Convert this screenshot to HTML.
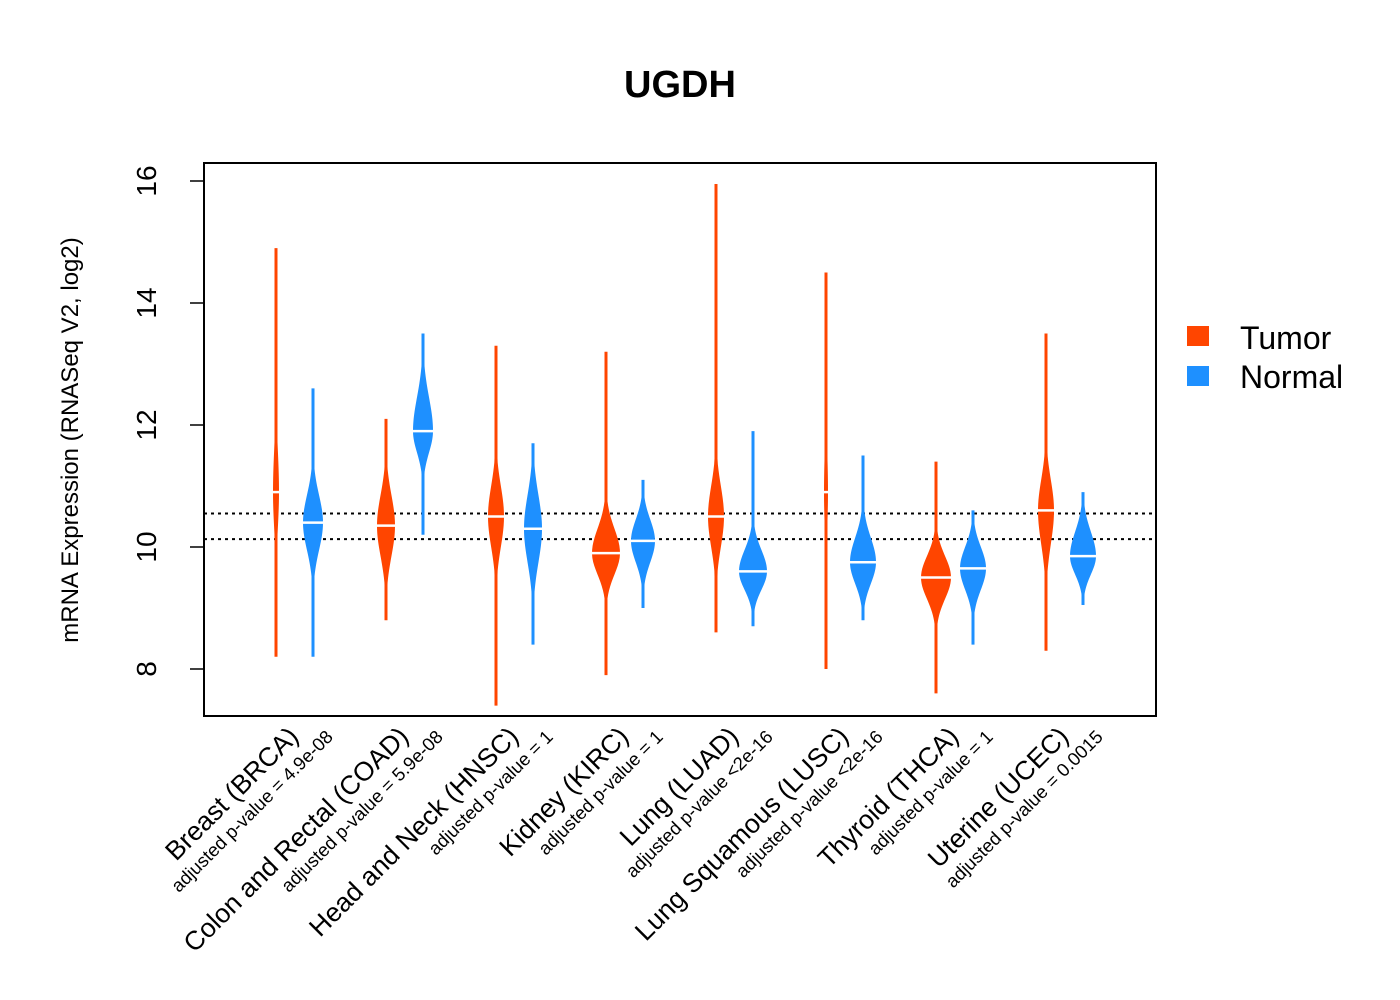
<!DOCTYPE html>
<html><head><meta charset="utf-8"><style>
body{margin:0;background:#fff}
svg{display:block;font-family:"Liberation Sans",Arial,sans-serif}
</style></head><body>
<svg id="chart" width="1400" height="1000">
<text x="680" y="97" font-size="38" font-weight="bold" text-anchor="middle">UGDH</text>
<rect x="204" y="163" width="952" height="553" fill="none" stroke="#000" stroke-width="2"/>
<text transform="translate(78,440) rotate(-90)" font-size="24" text-anchor="middle">mRNA Expression (RNASeq V2, log2)</text>
<g id="axes"></g>
<g id="marks"></g>
<g id="xlabels"></g>
<g>
<rect x="1187" y="326" width="22" height="20" fill="#FF4500"/>
<text x="1240" y="349" font-size="32">Tumor</text>
<rect x="1187" y="366" width="22" height="20" fill="#1E90FF"/>
<text x="1240" y="388" font-size="32">Normal</text>
</g>
</svg>
<script>
const categories=["Breast (BRCA)","Colon and Rectal (COAD)","Head and Neck (HNSC)","Kidney (KIRC)","Lung (LUAD)","Lung Squamous (LUSC)","Thyroid (THCA)","Uterine (UCEC)"];
const pvalues=["adjusted p-value = 4.9e-08","adjusted p-value = 5.9e-08","adjusted p-value = 1","adjusted p-value = 1","adjusted p-value <2e-16","adjusted p-value <2e-16","adjusted p-value = 1","adjusted p-value = 0.0015"];
const yTicks=[8,10,12,14,16];
const refLines=[10.55,10.13];
// tumor series
const tumorMin=[8.2,8.8,7.4,7.9,8.6,8.0,7.6,8.3];
const tumorMax=[14.9,12.1,13.3,13.2,15.95,14.5,11.4,13.5];
const tumorMedian=[10.9,10.35,10.5,9.9,10.5,10.9,9.5,10.6];
const tumorWidth=[6,18,16,28,16,4,30,16];
const tumorSdLow=[0.6,0.5,0.5,0.35,0.5,0.6,0.35,0.55];
const tumorSdHigh=[0.7,0.5,0.5,0.4,0.5,0.7,0.35,0.5];
// normal series
const normalMin=[8.2,10.2,8.4,9.0,8.7,8.8,8.4,9.05];
const normalMax=[12.6,13.5,11.7,11.1,11.9,11.5,10.6,10.9];
const normalMedian=[10.4,11.9,10.3,10.1,9.6,9.75,9.65,9.85];
const normalWidth=[20,20,18,24,28,26,26,26];
const normalSdLow=[0.45,0.35,0.55,0.35,0.3,0.35,0.35,0.3];
const normalSdHigh=[0.45,0.55,0.55,0.35,0.35,0.4,0.35,0.4];

const NS="http://www.w3.org/2000/svg";
const yScale=v=>547-(v-10)*61;
const xTumor=i=>276+i*110;
const xNormal=i=>313+i*110;
function mk(t,a,p){const e=document.createElementNS(NS,t);for(const k in a)e.setAttribute(k,a[k]);p.appendChild(e);return e;}
const axes=document.getElementById('axes'),marks=document.getElementById('marks'),xl=document.getElementById('xlabels');
mk('line',{x1:204,x2:204,y1:yScale(8),y2:yScale(16),stroke:'#000','stroke-width':1.5},axes);
yTicks.forEach(t=>{
  const l=mk('line',{x1:190,x2:204,y1:yScale(t),y2:yScale(t),stroke:'#000','stroke-width':1.5},axes);
  
  
  const tx=mk('text',{transform:`translate(156,${yScale(t)}) rotate(-90)`,'font-size':28,'text-anchor':'middle'},axes);
  tx.textContent=t;
  
  
});
refLines.forEach(v=>{
  const l=mk('line',{x1:204,x2:1156,y1:yScale(v),y2:yScale(v),stroke:'#000','stroke-width':2,'stroke-dasharray':'3,4'},marks);
  
  
});
function violin(cx,mn,mx,med,w,sl,sh,color,name){
  const pts=[];const n=80;
  for(let k=0;k<=n;k++){const v=mn+(mx-mn)*k/n;const sd=v<med?sl:sh;
    const hw=Math.max(1.5,w/2*Math.exp(-((v-med)**2)/(2*sd*sd)));pts.push([v,hw]);}
  let d='M'+pts.map(p=>`${cx+p[1]},${yScale(p[0])}`).join(' L');
  d+=' L'+pts.slice().reverse().map(p=>`${cx-p[1]},${yScale(p[0])}`).join(' L')+'Z';
  const p=mk('path',{d:d,fill:color},marks);
  
  
  const m=mk('line',{x1:cx-w/2,x2:cx+w/2,y1:yScale(med),y2:yScale(med),stroke:'#fff','stroke-width':2.5},marks);
  
  
}
categories.forEach((c,i)=>{
  violin(xTumor(i),tumorMin[i],tumorMax[i],tumorMedian[i],tumorWidth[i],tumorSdLow[i],tumorSdHigh[i],'#FF4500','tumor-violin');
  violin(xNormal(i),normalMin[i],normalMax[i],normalMedian[i],normalWidth[i],normalSdLow[i],normalSdHigh[i],'#1E90FF','normal-violin');
  const cx=xTumor(i);
  const t=mk('text',{transform:`translate(${cx+24},${738}) rotate(-45)`,'font-size':26.5,'text-anchor':'end'},xl);
  t.textContent=c;
  
  
  const s=mk('text',{transform:`translate(${cx+58},${738}) rotate(-45)`,'font-size':18.5,'text-anchor':'end'},xl);
  s.textContent=pvalues[i];
  
  
});
</script>
</body></html>
